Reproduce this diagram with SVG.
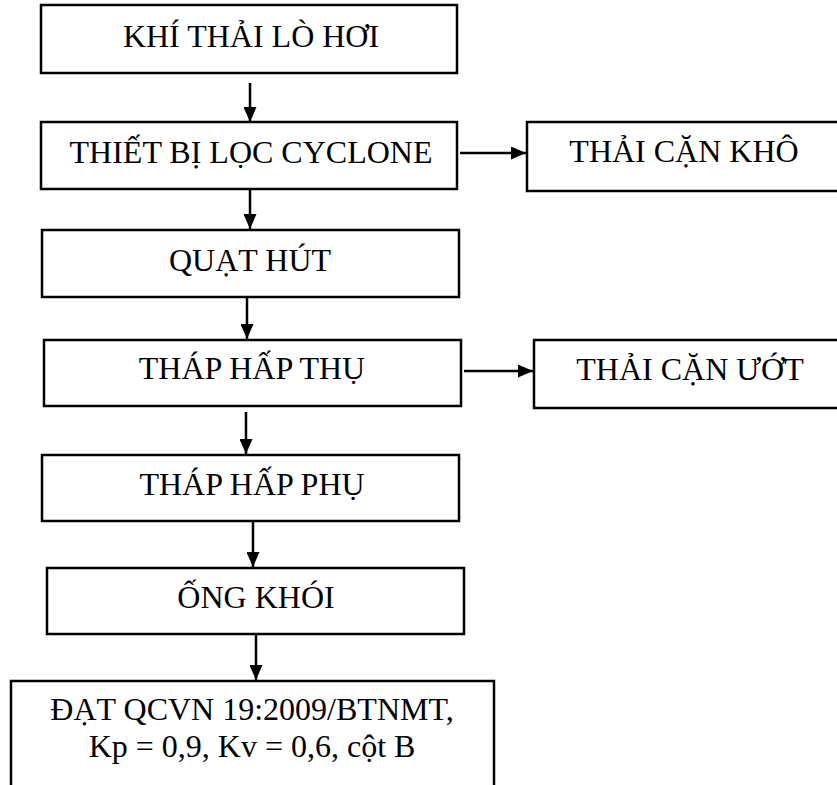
<svg xmlns="http://www.w3.org/2000/svg" width="837" height="785" viewBox="0 0 837 785">
<style>
.box{fill:#fff;stroke:#000;stroke-width:2.5}
.t{font-family:"Liberation Serif","Times New Roman",serif;font-size:32px;fill:#000;text-anchor:middle}
.c{stroke:#000;stroke-width:2.5;fill:none}
</style>
<defs>
<marker id="ah" viewBox="0 0 15 13" refX="15" refY="6.5" markerWidth="15" markerHeight="13" markerUnits="userSpaceOnUse" orient="auto">
<path d="M0,0 L15,6.5 L0,13 Z" fill="#000"/>
</marker>
</defs>
<rect width="837" height="785" fill="#fff"/>
<g id="n1"><rect class="box" x="41" y="5" width="416" height="68"/><text class="t" x="251" y="47">KHÍ THẢI LÒ HƠI</text></g>
<g id="n2"><rect class="box" x="41" y="122" width="416" height="67"/><text class="t" x="251" y="163">THIẾT BỊ LỌC CYCLONE</text></g>
<g id="n3"><rect class="box" x="527" y="122" width="320" height="69"/><text class="t" x="684" y="162">THẢI CẶN KHÔ</text></g>
<g id="n4"><rect class="box" x="42" y="230" width="417" height="67"/><text class="t" x="250" y="271">QUẠT HÚT</text></g>
<g id="n5"><rect class="box" x="44" y="340" width="417" height="66"/><text class="t" x="252" y="379">THÁP HẤP THỤ</text></g>
<g id="n6"><rect class="box" x="534" y="340" width="313" height="68"/><text class="t" x="690" y="380">THẢI CẶN ƯỚT</text></g>
<g id="n7"><rect class="box" x="42" y="455" width="417" height="66"/><text class="t" x="252" y="495">THÁP HẤP PHỤ</text></g>
<g id="n8"><rect class="box" x="47" y="568" width="417" height="66"/><text class="t" x="256" y="608">ỐNG KHÓI</text></g>
<g id="n9"><rect class="box" x="11" y="681" width="483" height="120"/><text class="t" x="252" y="720">ĐẠT QCVN 19:2009/BTNMT,</text><text class="t" x="252" y="757">Kp = 0,9, Kv = 0,6, cột B</text></g>
<g id="connectors">
<line class="c" x1="250" y1="83" x2="250" y2="122" marker-end="url(#ah)"/>
<line class="c" x1="250" y1="190" x2="250" y2="229" marker-end="url(#ah)"/>
<line class="c" x1="247" y1="297" x2="247" y2="339" marker-end="url(#ah)"/>
<line class="c" x1="246" y1="412" x2="246" y2="454" marker-end="url(#ah)"/>
<line class="c" x1="253" y1="521" x2="253" y2="567" marker-end="url(#ah)"/>
<line class="c" x1="256" y1="634" x2="256" y2="680" marker-end="url(#ah)"/>
<line class="c" x1="460" y1="153" x2="526" y2="153" marker-end="url(#ah)"/>
<line class="c" x1="464" y1="371" x2="533" y2="371" marker-end="url(#ah)"/>
</g>
</svg>
